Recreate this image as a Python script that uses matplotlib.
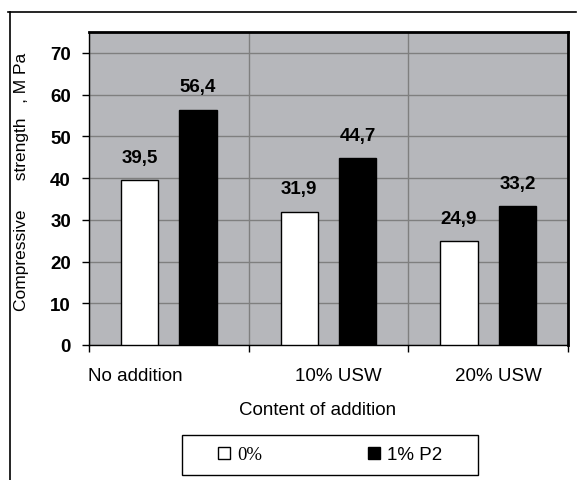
import matplotlib
matplotlib.use("Agg")
import matplotlib.pyplot as plt
import matplotlib.transforms as mtransforms
from matplotlib.lines import Line2D
from matplotlib.patches import Rectangle
import numpy as np

plt.rcParams['font.family'] = ['Liberation Sans', 'DejaVu Sans']

# compressive strength, MPa
categories = ['No addition', '10% USW', '20% USW']
series_names = ['0%', '1% P2']
strength_0 = [39.5, 31.9, 24.9]
strength_p2 = [56.4, 44.7, 33.2]
yticks = [0, 10, 20, 30, 40, 50, 60, 70]

W, H = 577, 481
fs = 13.5
fig = plt.figure(figsize=(W / 100, H / 100), dpi=100)
ax = fig.add_axes([89 / W, 1 - 346 / H, (568 - 89) / W, (346 - 33) / H])
ax.set_facecolor('#b6b7bb')

x = np.arange(len(categories))
bw = 0.235
off = 0.183
b1 = ax.bar(x - off, strength_0, bw, color='white', edgecolor='black', linewidth=1, zorder=3, label=series_names[0])
b2 = ax.bar(x + off, strength_p2, bw, color='black', edgecolor='black', linewidth=1, zorder=3, label=series_names[1])

# value labels with decimal comma
for bars, vals in ((b1, strength_0), (b2, strength_p2)):
    for rect, v in zip(bars, vals):
        ax.annotate(f"{v:.1f}".replace('.', ','),
                    (rect.get_x() + rect.get_width() / 2, v),
                    xytext=(0, 16.5), textcoords='offset points',
                    ha='center', va='center', fontsize=fs, fontweight='bold')

ax.set_xlim(-0.5, len(categories) - 0.5)
ax.set_ylim(0, 75)
ax.set_yticks(yticks)
ax.set_yticklabels([str(t) for t in yticks], fontsize=fs, fontweight='bold')
ax.tick_params(axis='y', length=5, width=1, pad=8, direction='out')

# separators between groups as major ticks, names on minor ticks
ax.set_xticks(np.arange(len(categories) + 1) - 0.5)
ax.set_xticklabels([])
ax.tick_params(axis='x', which='major', length=5, width=1, direction='out')
ax.set_xticks(x, minor=True)
ax.set_xticklabels(categories, minor=True, fontsize=fs)
ax.tick_params(axis='x', which='minor', length=0, pad=16)
shifts = [-34, 10, 10]
for lab, dx in zip(ax.get_xticklabels(minor=True), shifts):
    lab.set_transform(lab.get_transform() + mtransforms.ScaledTranslation(dx / 100, 0, fig.dpi_scale_trans))

ax.grid(True, axis='y', color='#7f7f7f', linewidth=1, zorder=0)
ax.grid(True, axis='x', which='major', color='#7f7f7f', linewidth=1, zorder=0)
ax.set_axisbelow(True)

for side in ('left', 'bottom'):
    ax.spines[side].set_linewidth(1)
for side in ('top', 'right'):
    ax.spines[side].set_linewidth(2)

fig.text(22 / W, 1 - 182 / H, 'Compressive      strength   , M Pa', rotation=90,
         ha='center', va='center', fontsize=12.5)
fig.text(318 / W, 1 - 411 / H, 'Content of addition', ha='center', va='center', fontsize=fs)

# outer frame (top and left edges)
fig.add_artist(Line2D([8 / W, 576 / W], [1 - 13 / H, 1 - 13 / H], color='black', linewidth=1.2))
fig.add_artist(Line2D([10 / W, 10 / W], [1 - 13 / H, 0], color='black', linewidth=1.2))

# legend box
fig.add_artist(Rectangle((182 / W, 1 - 476 / H), 296 / W, 40 / H, transform=fig.transFigure,
                         facecolor='white', edgecolor='black', linewidth=1))
leg = fig.legend(handles=[b1, b2], loc='center left', bbox_to_anchor=(218 / W, 1 - 456 / H),
                 ncol=2, frameon=False, fontsize=fs, handlelength=0.64, handleheight=0.64,
                 handletextpad=0.37, columnspacing=5.65, borderpad=0, borderaxespad=0)
leg.get_texts()[0].set_family('Liberation Serif')

fig.savefig('out.png', dpi=100)
